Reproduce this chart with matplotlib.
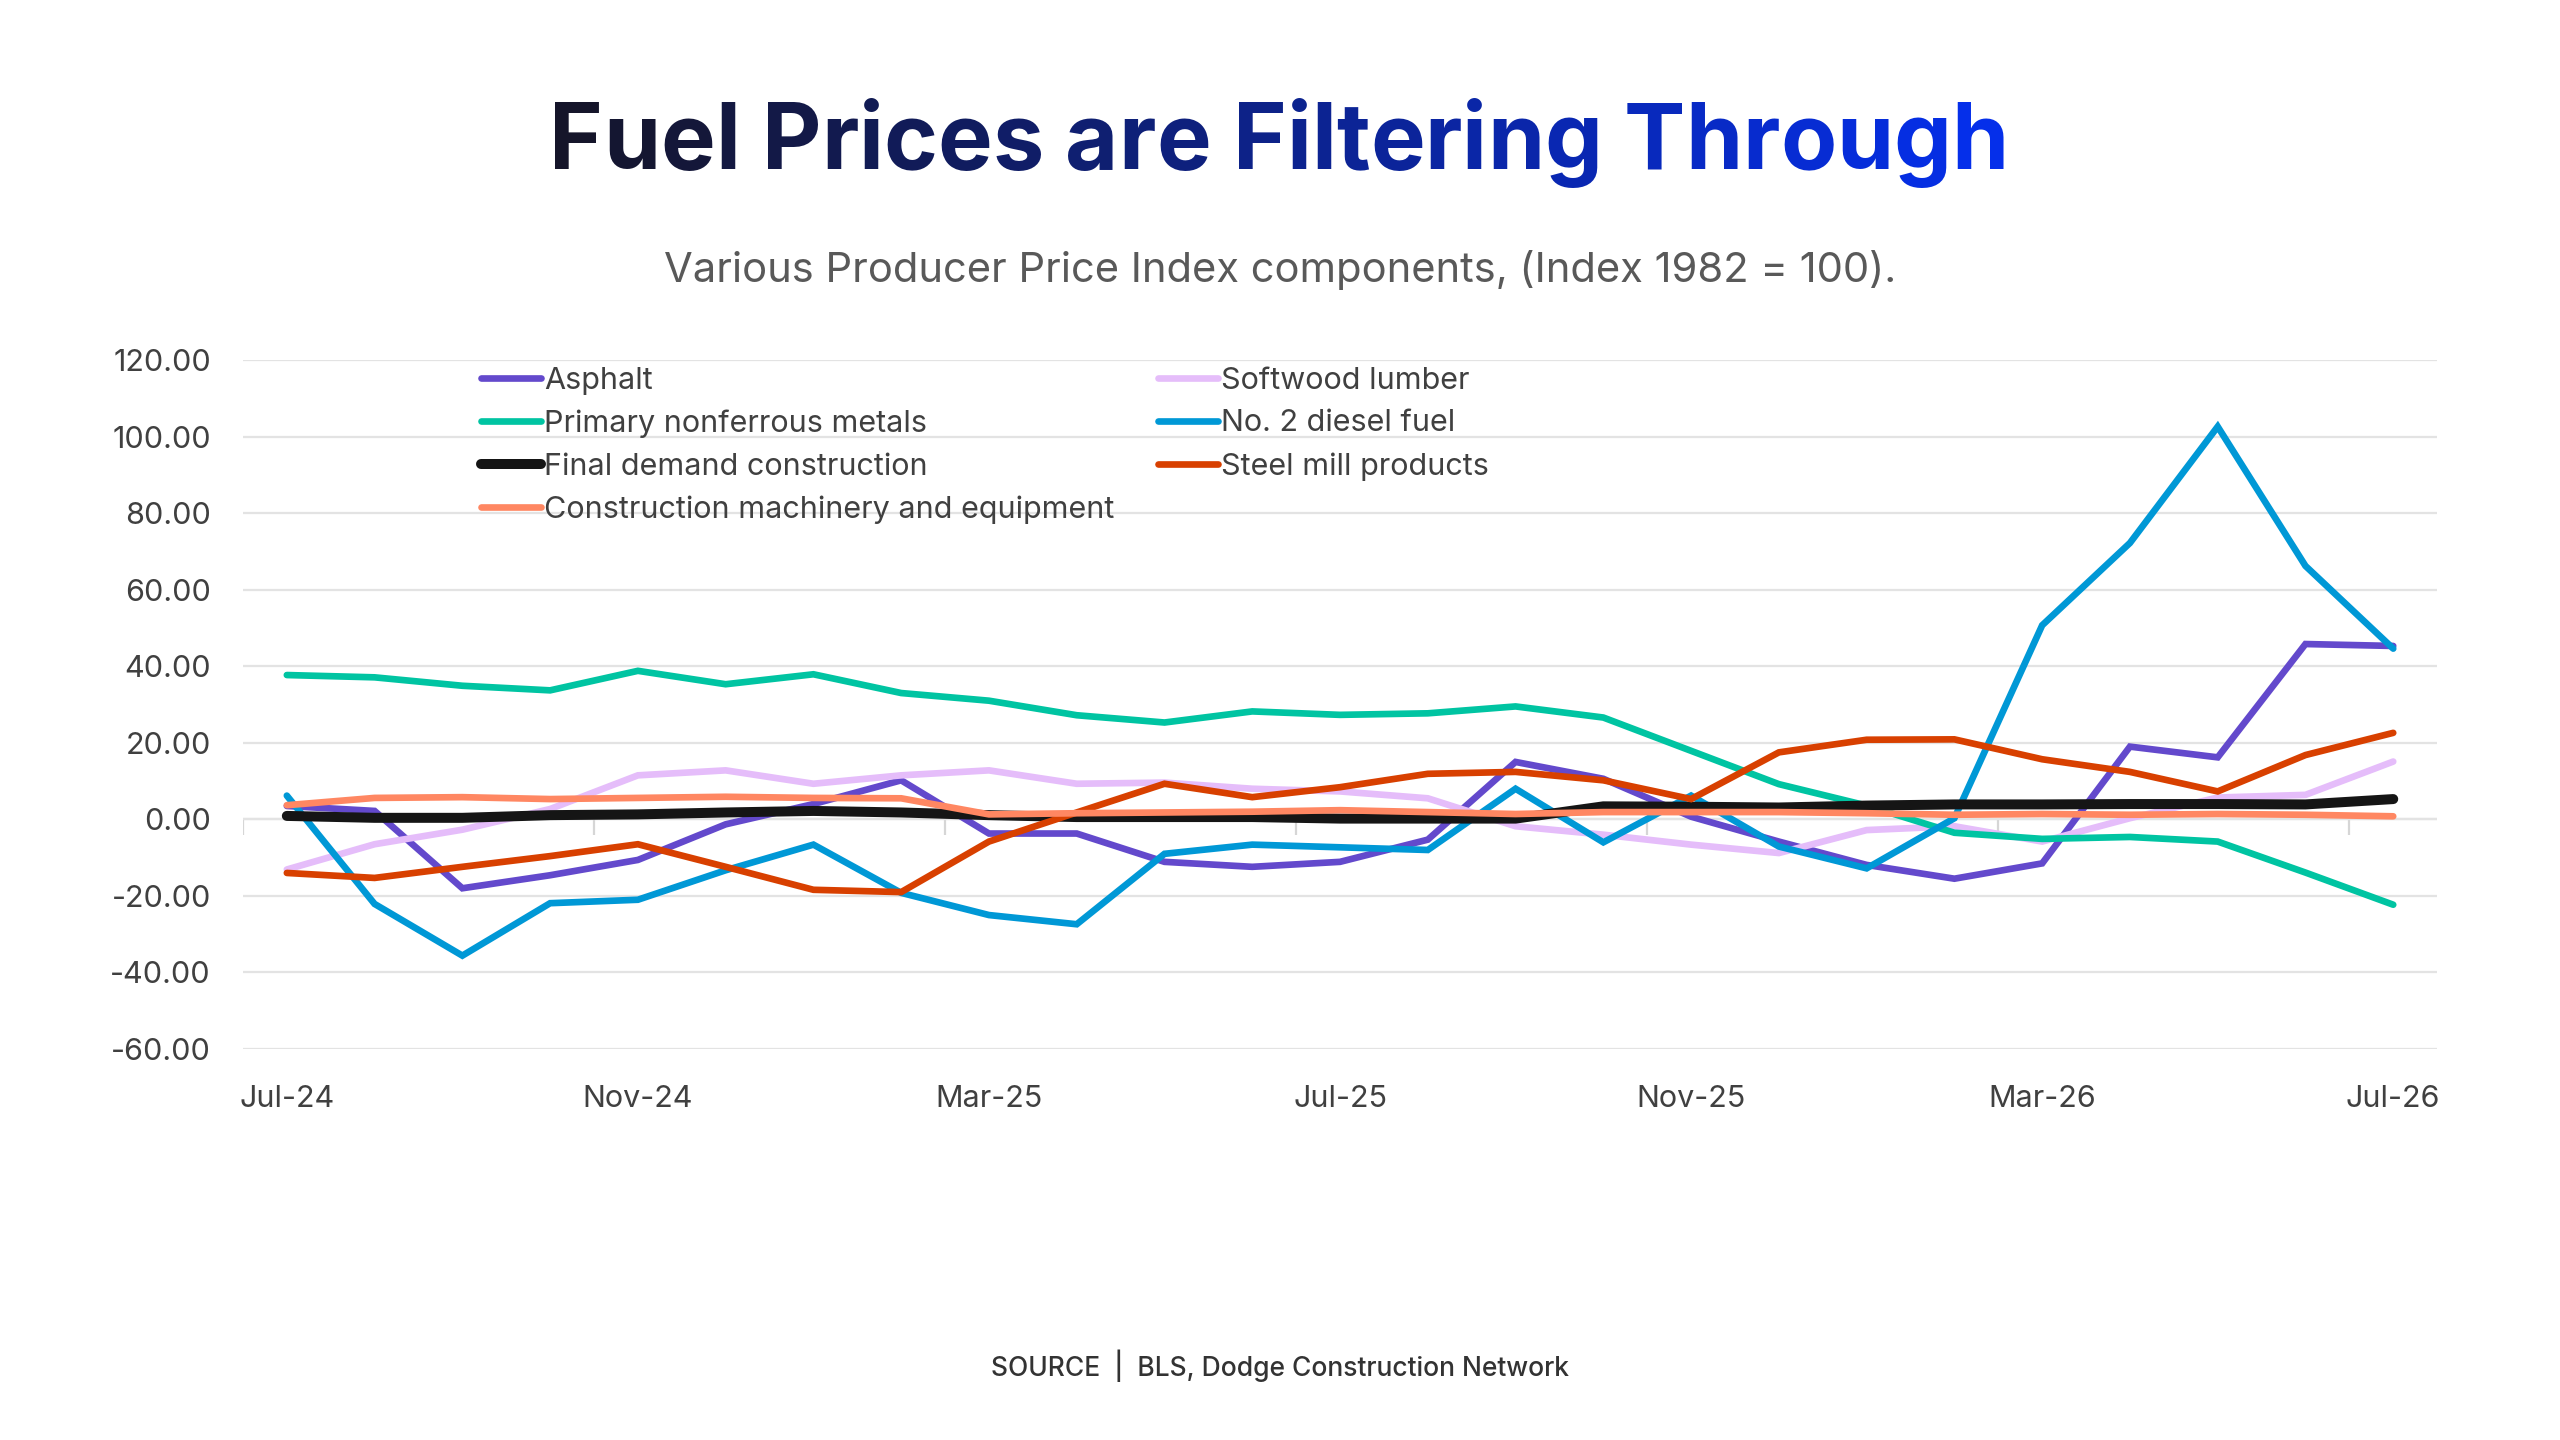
import numpy as np
import matplotlib
matplotlib.use('Agg')
import matplotlib.pyplot as plt
from matplotlib.colors import to_rgb

plt.rcParams['font.family'] = ['Inter', 'Noto Sans', 'DejaVu Sans']

# Months on the category axis
months = ['Jul-24', 'Aug-24', 'Sep-24', 'Oct-24', 'Nov-24', 'Dec-24', 'Jan-25', 'Feb-25',
          'Mar-25', 'Apr-25', 'May-25', 'Jun-25', 'Jul-25', 'Aug-25', 'Sep-25', 'Oct-25',
          'Nov-25', 'Dec-25', 'Jan-26', 'Feb-26', 'Mar-26', 'Apr-26', 'May-26', 'Jun-26', 'Jul-26']

# Series values
asphalt = [3.5, 2.2, -18.0, -14.6, -10.6, -1.3, 4.0, 10.2, -3.7, -3.7, -11.1, -12.4, -11.1,
           -5.3, 15.0, 10.6, 0.7, -5.8, -11.9, -15.5, -11.5, 19.0, 16.2, 45.8, 45.3]
softwood = [-13.1, -6.5, -2.7, 2.7, 11.5, 12.8, 9.3, 11.5, 12.8, 9.3, 9.6, 8.0, 7.3,
            5.5, -1.8, -4.0, -6.6, -8.8, -2.8, -1.8, -5.8, 0.3, 5.7, 6.4, 15.1]
nonferrous = [37.7, 37.1, 34.9, 33.7, 38.8, 35.3, 37.9, 33.0, 31.0, 27.2, 25.3, 28.2, 27.3,
              27.7, 29.5, 26.6, 17.9, 9.2, 3.6, -3.5, -5.1, -4.6, -5.8, -13.9, -22.3]
diesel = [6.2, -22.1, -35.6, -21.9, -21.0, -13.3, -6.6, -19.2, -25.0, -27.4, -9.0, -6.6, -7.3,
          -8.0, 8.0, -6.0, 6.2, -7.1, -12.8, 0.3, 50.7, 72.2, 102.6, 66.2, 44.6]
final_demand = [0.9, 0.4, 0.4, 1.1, 1.3, 1.8, 2.2, 1.8, 1.1, 0.6, 0.6, 0.6, 0.2,
                0.2, 0.2, 3.4, 3.3, 3.1, 3.6, 3.9, 3.9, 4.0, 4.0, 3.9, 5.3]
steel = [-14.0, -15.3, -12.4, -9.6, -6.5, -12.4, -18.4, -19.0, -5.8, 1.8, 9.3, 5.8, 8.4,
         11.9, 12.4, 10.2, 5.3, 17.5, 20.8, 20.9, 15.7, 12.4, 7.3, 16.8, 22.6]
machinery = [3.7, 5.6, 5.8, 5.3, 5.6, 5.9, 5.6, 5.5, 1.3, 1.6, 1.8, 2.0, 2.4,
             1.9, 1.4, 1.9, 1.9, 1.9, 1.6, 1.2, 1.4, 1.2, 1.4, 1.2, 0.8]

# (label, values, colour, width) in drawing order
series = [
    ('Asphalt', asphalt, '#6349CC', 4.8),
    ('Softwood lumber', softwood, '#E5BDFA', 4.8),
    ('Primary nonferrous metals', nonferrous, '#00C4A2', 4.8),
    ('No. 2 diesel fuel', diesel, '#0098D6', 4.8),
    ('Final demand construction', final_demand, '#151515', 7.2),
    ('Steel mill products', steel, '#D84000', 4.8),
    ('Construction machinery and equipment', machinery, '#FF8762', 4.8),
]

W, H = 2560, 1440
fig = plt.figure(figsize=(W / 100, H / 100), dpi=100)
ax = fig.add_axes([0.0949, 0.2715, 0.8571, 0.4785])

x = np.arange(len(months))
lines = {}
for label, vals, color, lw in series:
    ln, = ax.plot(x, vals, color=color, lw=lw, solid_capstyle='round',
                  solid_joinstyle='miter', label=label)
    lines[label] = ln

ax.set_xlim(-0.5, len(months) - 0.5)
ax.set_ylim(-60, 120)
ax.set_yticks(np.arange(-60, 121, 20))
ax.yaxis.set_major_formatter(matplotlib.ticker.FuncFormatter(lambda v, p: f'{v:.2f}'))
ax.set_xticks(x[::4])
ax.set_xticklabels(months[::4])
ax.tick_params(axis='both', length=0, labelsize=22, labelcolor='#404040')
ax.tick_params(axis='y', pad=23)
ax.tick_params(axis='x', pad=26)
ax.grid(axis='y', color='#E3E3E3', lw=1.6, zorder=0)
ax.set_axisbelow(True)
for s in ax.spines.values():
    s.set_visible(False)

# Horizontal axis at zero with small ticks between categories
ax.axhline(0, color='#D6D6D6', lw=1.6, zorder=0.5)
ax.vlines(np.arange(-0.5, len(months), 4), -4, 0, color='#D6D6D6', lw=1.6, zorder=0.5)

# Legend, two columns
order = ['Asphalt', 'Primary nonferrous metals', 'Final demand construction',
         'Construction machinery and equipment', 'Softwood lumber', 'No. 2 diesel fuel',
         'Steel mill products']
leg = ax.legend([lines[k] for k in order], order, ncol=2, loc='upper left',
                bbox_to_anchor=(0.096, 1.03), frameon=False, fontsize=22,
                handlelength=1.95, handletextpad=0.1, columnspacing=1.45,
                labelspacing=0.48, labelcolor='#404040')

fig.canvas.draw()
renderer = fig.canvas.get_renderer()


def text_width(s, **kw):
    t = fig.text(0, 0, s, **kw)
    w = t.get_window_extent(renderer).width
    t.remove()
    return w


# Title with a dark-to-blue gradient across characters, fitted to the reference width
title = 'Fuel Prices are Filtering Through'
c0 = np.array(to_rgb('#15152A'))
c1 = np.array(to_rgb('#0430F2'))
tkw = dict(fontsize=60, fontweight='bold', va='center', ha='left')
tkw['fontsize'] = 60 * 1460 / text_width(title, **tkw)
total_w = text_width(title, **tkw)
left_px = 1279 - total_w / 2
for i, ch in enumerate(title):
    if ch == ' ':
        continue
    xpix = left_px + text_width(title[:i + 1], **tkw) - text_width(ch, **tkw)
    frac = (xpix - left_px) / total_w
    col = c0 + (c1 - c0) * frac
    fig.text(xpix / W, 0.899, ch, color=col, **tkw)

fig.text(0.5, 0.8125, 'Various Producer Price Index components, (Index 1982 = 100).',
         ha='center', va='center', fontsize=30, color='#595959')

fig.text(0.5, 0.0515, 'SOURCE  |  BLS, Dodge Construction Network', ha='center',
         va='center', fontsize=19, color='#333333', fontweight='medium')

fig.savefig('out.png', dpi=100, facecolor='white')
